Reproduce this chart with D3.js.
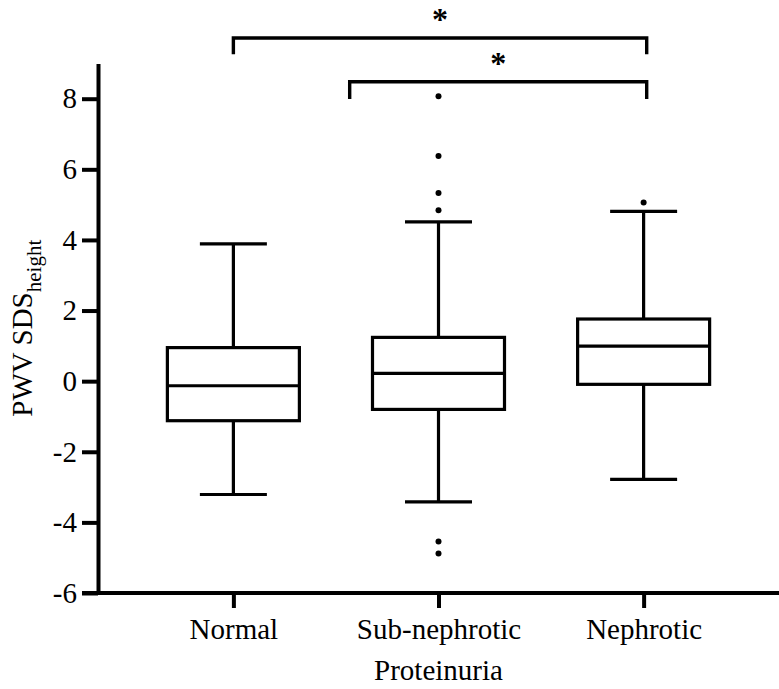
<!DOCTYPE html>
<html>
<head>
<meta charset="utf-8">
<script src="https://cdn.jsdelivr.net/npm/d3@7"></script>
<style>
  html, body { margin: 0; padding: 0; background: #fff; }
  svg { display: block; }
  svg text { font-family: "Liberation Serif", "Times New Roman", serif; fill: #000; }
</style>
</head>
<body>
<svg id="chart" width="779" height="689"></svg>
<script>
// ---- Data ----
const categories = ["Normal", "Sub-nephrotic", "Nephrotic"];
const whiskerLow  = [-3.21, -3.42, -2.78];
const q1          = [-1.12, -0.80, -0.09];
const medians     = [-0.13,  0.22,  0.99];
const q3          = [ 0.95,  1.24,  1.76];
const whiskerHigh = [ 3.89,  4.51,  4.81];
const outliers = [
  [],
  [8.07, 6.38, 5.33, 4.84, -4.54, -4.88],
  [5.06]
];
const yTicks = [-6, -4, -2, 0, 2, 4, 6, 8];
const yTickLabels = ["-6", "-4", "-2", "0", "2", "4", "6", "8"];
// brackets: from/to in category-index units, bar level, leg bottom level, label
const bracketFrom  = [0, 0.567];
const bracketTo    = [2.015, 2.015];
const bracketTop   = [9.72, 8.48];
const bracketLeg   = [9.26, 7.99];
const bracketLabel = ["*", "*"];

// ---- Layout ----
const svg = d3.select("#chart");
const mLeft = 98, mRight = 779, mTop = 63.4, mBottom = 593;
const serif = '"Liberation Serif", "Times New Roman", serif';

const y = d3.scaleLinear().domain([-6, 9]).range([mBottom, mTop]);
const x = d3.scalePoint().domain(categories).range([mLeft, mRight]).padding(0.66);
const idx = d3.scaleLinear().domain([0, 2]).range([x(categories[0]), x(categories[2])]);
const boxW = 132, capW = 67;

// Y axis
const yAxis = svg.append("g")
  .attr("transform", `translate(${mLeft},0)`)
  .call(d3.axisLeft(y).tickValues(yTicks).tickSize(16).tickSizeOuter(0).tickPadding(5)
    .tickFormat((d, i) => yTickLabels[i]));
yAxis.attr("font-family", null).attr("font-size", null);
yAxis.select(".domain").attr("stroke", "#000").attr("stroke-width", 4);
yAxis.selectAll(".tick line").attr("stroke", "#000").attr("stroke-width", 4);
yAxis.selectAll(".tick text").style("font-size", "29px").style("font-family", serif).attr("fill", "#000");

// X axis
svg.append("line")
  .attr("x1", mLeft - 16).attr("x2", mRight)
  .attr("y1", mBottom).attr("y2", mBottom)
  .attr("stroke", "#000").attr("stroke-width", 4);
const xAxis = svg.append("g")
  .attr("transform", `translate(0,${mBottom})`)
  .call(d3.axisBottom(x).tickSize(15).tickSizeOuter(0).tickPadding(10));
xAxis.attr("font-family", null).attr("font-size", null);
xAxis.select(".domain").remove();
xAxis.selectAll(".tick line").attr("stroke", "#000").attr("stroke-width", 4);
xAxis.selectAll(".tick text").style("font-size", "29px").style("font-family", serif).attr("fill", "#000");

// Boxes
const data = categories.map((c, i) => ({
  c, lo: whiskerLow[i], q1: q1[i], med: medians[i], q3: q3[i], hi: whiskerHigh[i], out: outliers[i]
}));
const g = svg.append("g").attr("stroke", "#000").attr("stroke-width", 3.2).attr("fill", "none");
data.forEach(d => {
  const cx = x(d.c);
  g.append("line").attr("x1", cx).attr("x2", cx).attr("y1", y(d.hi)).attr("y2", y(d.q3));
  g.append("line").attr("x1", cx).attr("x2", cx).attr("y1", y(d.q1)).attr("y2", y(d.lo));
  g.append("line").attr("x1", cx - capW / 2).attr("x2", cx + capW / 2).attr("y1", y(d.hi)).attr("y2", y(d.hi));
  g.append("line").attr("x1", cx - capW / 2).attr("x2", cx + capW / 2).attr("y1", y(d.lo)).attr("y2", y(d.lo));
  g.append("rect").attr("x", cx - boxW / 2).attr("width", boxW)
    .attr("y", y(d.q3)).attr("height", y(d.q1) - y(d.q3)).attr("fill", "#fff");
  g.append("line").attr("x1", cx - boxW / 2).attr("x2", cx + boxW / 2).attr("y1", y(d.med)).attr("y2", y(d.med));
  d.out.forEach(v => {
    svg.append("circle").attr("cx", cx).attr("cy", y(v)).attr("r", 3).attr("fill", "#000");
  });
});

// Significance brackets
bracketFrom.forEach((f, i) => {
  const x1 = idx(f), x2 = idx(bracketTo[i]);
  const yb = y(bracketTop[i]), yl = y(bracketLeg[i]);
  svg.append("path")
    .attr("d", `M${x1},${yl}V${yb}H${x2}V${yl}`)
    .attr("fill", "none").attr("stroke", "#000").attr("stroke-width", 3.4);
  svg.append("text")
    .attr("x", (x1 + x2) / 2).attr("y", yb - 8)
    .attr("text-anchor", "middle")
    .style("font-size", "32px").attr("font-weight", "bold")
    .text(bracketLabel[i]);
});

// Axis titles
const ylab = svg.append("text")
  .attr("transform", `translate(32,${(mTop + mBottom) / 2}) rotate(-90)`)
  .attr("text-anchor", "middle")
  .style("font-size", "29px");
ylab.append("tspan").text("PWV SDS");
ylab.append("tspan").style("font-size", "21px").attr("dy", 9).text("height");

svg.append("text")
  .attr("x", (mLeft + mRight) / 2).attr("y", 680)
  .attr("text-anchor", "middle")
  .style("font-size", "29px")
  .text("Proteinuria");
</script>
</body>
</html>
